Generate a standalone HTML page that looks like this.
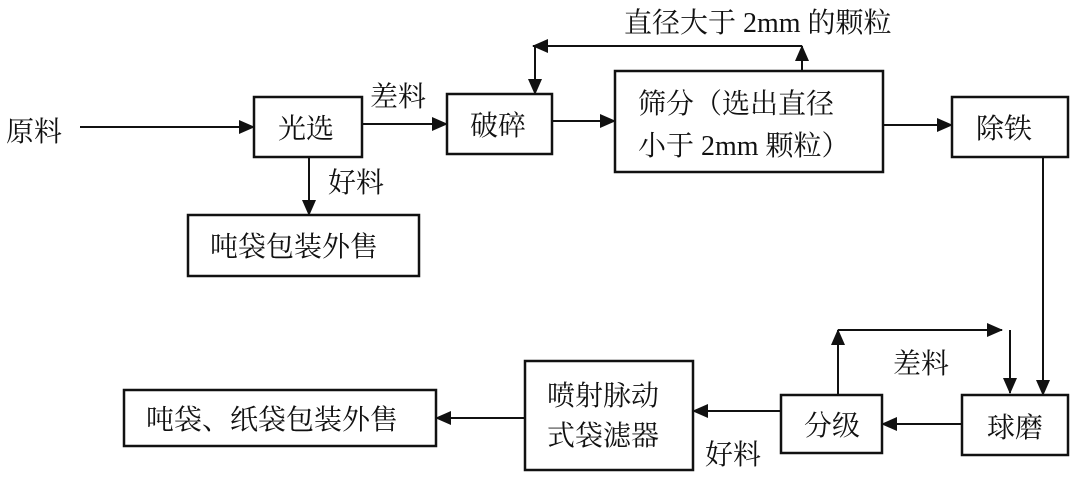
<!DOCTYPE html>
<html><head><meta charset="utf-8"><style>
html,body{margin:0;padding:0;background:#fff}
svg text{font-family:"Liberation Serif","Noto Serif CJK SC","Noto Sans CJK SC",serif;font-size:28px;fill:#111}
</style></head><body>
<svg width="1080" height="480" viewBox="0 0 1080 480" xmlns="http://www.w3.org/2000/svg">
<defs>
<marker id="b" markerWidth="16" markerHeight="16" refX="15" refY="8" orient="auto" markerUnits="userSpaceOnUse" viewBox="0 0 16 16">
<path d="M0,1 L16,8 L0,15 z" fill="#111"/></marker>
</defs>
<g fill="none" stroke="#111" stroke-width="2.5">
<rect x="254" y="97" width="108" height="60"/>
<rect x="447" y="94" width="105" height="60"/>
<rect x="188" y="215" width="231" height="61"/>
<rect x="615" y="71" width="268" height="101"/>
<rect x="952" y="97" width="116" height="60"/>
<rect x="124" y="390" width="312" height="56"/>
<rect x="525" y="361" width="168" height="109"/>
<rect x="781" y="395" width="101" height="58"/>
<rect x="962" y="395" width="106" height="60"/>
</g>
<g stroke="#111" stroke-width="2" fill="none" marker-end="url(#b)">
<line x1="80" y1="127" x2="254" y2="127"/>
<line x1="362" y1="124" x2="447" y2="124"/>
<line x1="309" y1="157" x2="309" y2="215"/>
<line x1="552" y1="121" x2="615" y2="121"/>
<line x1="802" y1="71" x2="802" y2="46"/>
<line x1="802" y1="46" x2="533" y2="46"/>
<line x1="535" y1="46" x2="535" y2="94"/>
<line x1="883" y1="125" x2="952" y2="125"/>
<line x1="1043" y1="157" x2="1043" y2="395"/>
<line x1="962" y1="424" x2="882" y2="424"/>
<line x1="781" y1="411" x2="693" y2="411"/>
<line x1="525" y1="418" x2="436" y2="418"/>
<line x1="838" y1="395" x2="838" y2="330"/>
<line x1="838" y1="330" x2="1002" y2="330"/>
<line x1="1010" y1="330" x2="1010" y2="393"/>
</g>
<text x="6" y="141">原料</text>
<text x="278" y="138">光选</text>
<text x="370" y="106">差料</text>
<text x="328" y="192">好料</text>
<text x="470" y="135">破碎</text>
<text x="210" y="256">吨袋包装外售</text>
<text x="624" y="32">直径大于 2mm 的颗粒</text>
<text x="638" y="113">筛分（选出直径</text>
<text x="638" y="155">小于 2mm 颗粒）</text>
<text x="976" y="138">除铁</text>
<text x="893" y="373">差料</text>
<text x="146" y="429">吨袋、纸袋包装外售</text>
<text x="547" y="405">喷射脉动</text>
<text x="547" y="445">式袋滤器</text>
<text x="705" y="464">好料</text>
<text x="804" y="435">分级</text>
<text x="987" y="437">球磨</text>
</svg>
</body></html>
